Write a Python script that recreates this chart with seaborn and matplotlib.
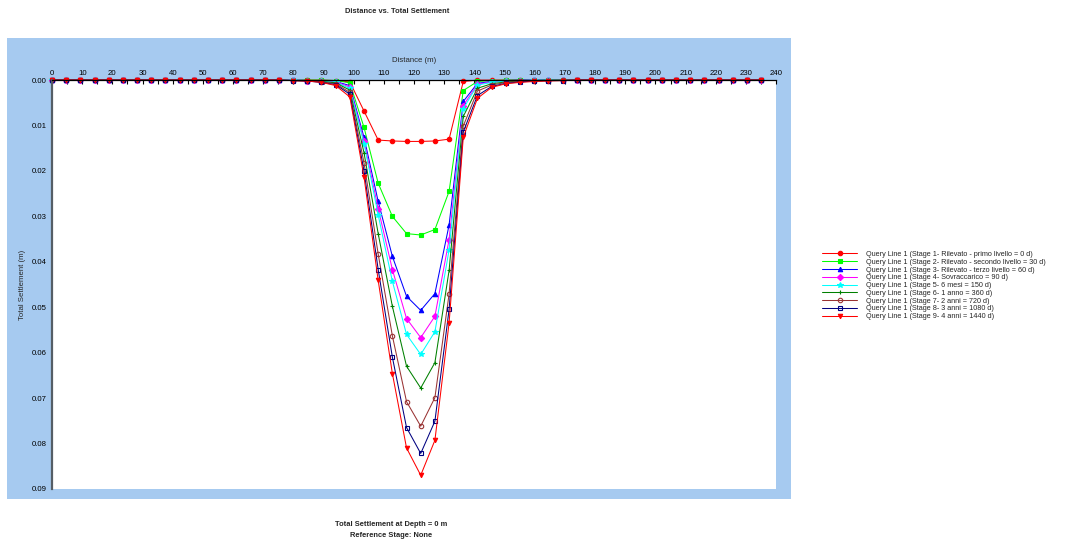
import numpy as np
import pandas as pd
import matplotlib
matplotlib.use('Agg')
import matplotlib.pyplot as plt
import matplotlib.patches as mpatches
import seaborn as sns

# distance along the query line (m), 51 sample points
distance = [0.0, 4.7, 9.4, 14.1, 18.8, 23.5, 28.2, 32.9, 37.6, 42.3,
            47.0, 51.7, 56.4, 61.1, 65.8, 70.5, 75.2, 79.9, 84.6, 89.3,
            94.0, 98.7, 103.4, 108.1, 112.8, 117.5, 122.2, 126.9, 131.6, 136.3,
            141.0, 145.7, 150.4, 155.1, 159.8, 164.5, 169.2, 173.9, 178.6, 183.3,
            188.0, 192.7, 197.4, 202.1, 206.8, 211.5, 216.2, 220.9, 225.6, 230.3,
            235.0]

# total settlement (m) per stage; flat zero parts left and right of the embankment
stage1 = [0.0] * 17 + [0, 0, 0, 0.0001, 0.0004, 0.0068, 0.0132, 0.0134, 0.0135, 0.0135,
                       0.0134, 0.0130, 0.0003, 0, 0, 0, 0, 0, 0, 0] + [0.0] * 14
stage2 = [0.0] * 17 + [0, 0, 0, 0.0001, 0.0006, 0.0104, 0.0227, 0.0300, 0.0338, 0.0341,
                       0.0329, 0.0245, 0.0023, 0.0003, 0.0001, 0, 0, 0, 0, 0] + [0.0] * 14
stage3 = [0.0] * 17 + [0, 0.0001, 0.0001, 0.0003, 0.0012, 0.0126, 0.0267, 0.0388, 0.0476, 0.0507,
                       0.0470, 0.0319, 0.0047, 0.0007, 0.0003, 0.0001, 0, 0, 0, 0] + [0.0] * 14
stage4 = [0.0] * 17 + [0, 0.0001, 0.0002, 0.0004, 0.0015, 0.0134, 0.0283, 0.0417, 0.0525, 0.0567,
                       0.0520, 0.0351, 0.0056, 0.0009, 0.0004, 0.0002, 0.0001, 0, 0, 0] + [0.0] * 14
stage5 = [0.0] * 17 + [0, 0.0001, 0.0002, 0.0005, 0.0018, 0.0140, 0.0297, 0.0443, 0.0560, 0.0604,
                       0.0554, 0.0374, 0.0063, 0.0011, 0.0005, 0.0002, 0.0001, 0, 0, 0] + [0.0] * 14
stage6 = [0.0] * 17 + [0.0001, 0.0001, 0.0003, 0.0006, 0.0022, 0.0160, 0.0338, 0.0498, 0.0630, 0.0678,
                       0.0622, 0.0419, 0.0080, 0.0018, 0.0008, 0.0004, 0.0002, 0.0001, 0, 0] + [0.0] * 14
stage7 = [0.0] * 17 + [0.0001, 0.0002, 0.0004, 0.0008, 0.0027, 0.0182, 0.0383, 0.0563, 0.0708, 0.0762,
                       0.0699, 0.0471, 0.0101, 0.0024, 0.0011, 0.0005, 0.0003, 0.0002, 0.0001, 0] + [0.0] * 14
stage8 = [0.0] * 17 + [0.0001, 0.0002, 0.0005, 0.0010, 0.0031, 0.0200, 0.0417, 0.0610, 0.0765, 0.0822,
                       0.0751, 0.0505, 0.0114, 0.0034, 0.0014, 0.0007, 0.0004, 0.0002, 0.0001, 0.0001] + [0.0] * 14
stage9 = [0.0] * 17 + [0.0001, 0.0002, 0.0005, 0.0012, 0.0037, 0.0213, 0.0441, 0.0646, 0.0810, 0.0870,
                       0.0793, 0.0535, 0.0126, 0.0040, 0.0016, 0.0008, 0.0005, 0.0003, 0.0002, 0.0001] + [0.0] * 14

labels = [
    'Query Line 1 (Stage 1- Rilevato - primo livello = 0 d)',
    'Query Line 1 (Stage 2- Rilevato - secondo livello = 30 d)',
    'Query Line 1 (Stage 3- Rilevato - terzo livello = 60 d)',
    'Query Line 1 (Stage 4- Sovraccarico = 90 d)',
    'Query Line 1 (Stage 5- 6 mesi = 150 d)',
    'Query Line 1 (Stage 6- 1 anno = 360 d)',
    'Query Line 1 (Stage 7- 2 anni = 720 d)',
    'Query Line 1 (Stage 8- 3 anni = 1080 d)',
    'Query Line 1 (Stage 9- 4 anni = 1440 d)',
]
stages = [stage1, stage2, stage3, stage4, stage5, stage6, stage7, stage8, stage9]

colors = ['#ff0000', '#00ff00', '#0000ff', '#ff00ff', '#00ffff',
          '#008000', '#993333', '#000080', '#ff0000']
markers = ['o', 's', '^', 'D', '*', '+', 'o', 's', 'v']
filled = [True, True, True, True, True, True, False, False, True]

sns.set_style('white')
plt.rcParams['font.family'] = ['Liberation Sans', 'DejaVu Sans']

fig = plt.figure(figsize=(10.84, 5.45), dpi=100)
panel = mpatches.Rectangle((0.0065, 0.0844), 0.7232, 0.846,
                           transform=fig.transFigure, facecolor='#a6caf0',
                           edgecolor='none', zorder=-10)
fig.patches.append(panel)
ax = fig.add_axes([0.048, 0.103, 0.668, 0.750])
ax.set_zorder(5)
ax.set_facecolor('white')

for vals, lab, c, m, f in zip(stages, labels, colors, markers, filled):
    df = pd.DataFrame({'Distance': distance, 'Settlement': vals})
    sns.lineplot(data=df, x='Distance', y='Settlement', ax=ax, color=c, marker=m,
                 markersize=3.2 if m != '*' else 4.2, markeredgecolor=c,
                 markerfacecolor=c if f else 'none', markeredgewidth=0.8,
                 linewidth=0.75, label=lab, sort=False, legend=False, clip_on=False)

ax.set_xlim(0, 240)
ax.set_ylim(0.09, 0)
ax.xaxis.tick_top()
ax.xaxis.set_label_position('top')
ax.set_xticks(np.arange(0, 241, 10))
ax.set_xticks(np.arange(0, 241, 5), minor=True)
ax.set_yticks(np.arange(0, 0.0901, 0.01))
ax.set_yticks(np.arange(0, 0.0901, 0.005), minor=True)
ax.set_yticklabels(['%.2f' % v for v in np.arange(0, 0.0901, 0.01)])
ax.tick_params(axis='x', which='both', direction='in', length=3, width=0.8,
               labelsize=5.6, pad=2, top=True, bottom=False, colors='black')
ax.tick_params(axis='y', which='both', direction='out', length=3, width=0.8,
               labelsize=5.6, pad=1, colors='black')
ax.set_xlabel('Distance (m)', fontsize=5.6, labelpad=6)
ax.set_ylabel('Total Settlement (m)', fontsize=5.6, labelpad=4)
for s in ['right', 'bottom']:
    ax.spines[s].set_visible(False)
ax.spines['top'].set_color('black')
ax.spines['top'].set_linewidth(0.9)
ax.spines['left'].set_color('#555e66')
ax.spines['left'].set_linewidth(1.6)

handles, labs = ax.get_legend_handles_labels()
fig.legend(handles, labs, loc='center left', bbox_to_anchor=(0.756, 0.476),
           frameon=False, fontsize=5.2, handlelength=4.8, handletextpad=1.2,
           labelspacing=0.1, borderaxespad=0)

fig.text(0.366, 0.979, 'Distance vs. Total Settlement', ha='center', va='center',
         fontsize=5.4, fontweight='bold')
fig.text(0.361, 0.037, 'Total Settlement at Depth = 0 m', ha='center', va='center',
         fontsize=5.4, fontweight='bold')
fig.text(0.361, 0.017, 'Reference Stage: None', ha='center', va='center',
         fontsize=5.4, fontweight='bold')

fig.savefig('out.png', dpi=100)
